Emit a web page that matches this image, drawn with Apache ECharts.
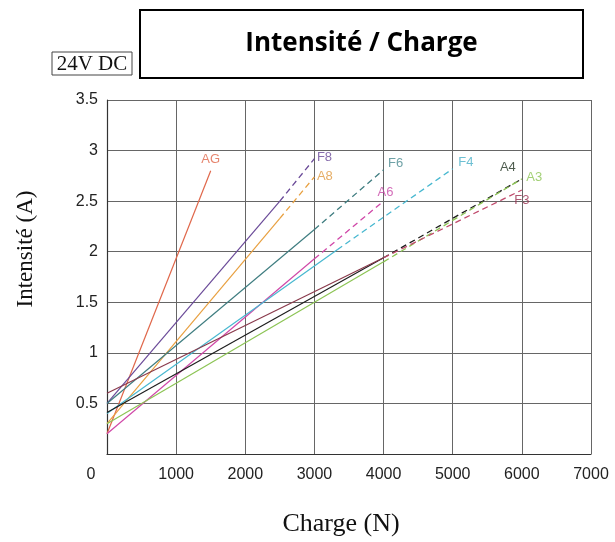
<!DOCTYPE html>
<html>
<head>
<meta charset="utf-8">
<script src="https://cdn.jsdelivr.net/npm/echarts@6/dist/echarts.min.js"></script>
<style>
html,body{margin:0;padding:0;background:#fff;}
#c{width:615px;height:542px;}
</style>
</head>
<body>
<div id="c"></div>
<script>
// ---- data (Charge N, Intensité A) ----
const xTicks = [0, 1000, 2000, 3000, 4000, 5000, 6000, 7000];
const yTicks = [0, 0.5, 1, 1.5, 2, 2.5, 3, 3.5];

const agSolid  = [[0, 0.2], [1500, 2.8]];
const f8Solid  = [[0, 0.5], [2500, 2.5]];
const f8Dashed = [[2500, 2.5], [3000, 2.92]];
const a8Solid  = [[0, 0.3], [2500, 2.33]];
const a8Dashed = [[2500, 2.33], [3000, 2.74]];
const f6Solid  = [[0, 0.5], [3000, 2.22]];
const f6Dashed = [[3000, 2.22], [4000, 2.81]];
const a6Solid  = [[0, 0.2], [3000, 1.93]];
const a6Dashed = [[3000, 1.93], [4000, 2.5]];
const f4Solid  = [[0, 0.4], [3330, 2.02]];
const f4Dashed = [[3330, 2.02], [5000, 2.82]];
const a4Solid  = [[0, 0.41], [4000, 1.94]];
const a4Dashed = [[4000, 1.94], [6000, 2.72]];
const a3Solid  = [[0, 0.3], [4000, 1.9]];
const a3Dashed = [[4000, 1.9], [6000, 2.72]];
const f3Solid  = [[0, 0.6], [4000, 1.94]];
const f3Dashed = [[4000, 1.94], [6000, 2.61]];

const lineNames  = ['AG', 'F8', 'A8', 'F6', 'A6', 'F4', 'A4', 'A3', 'F3'];
const solidSets  = [agSolid, f8Solid, a8Solid, f6Solid, a6Solid, f4Solid, a4Solid, a3Solid, f3Solid];
const dashedSets = [null, f8Dashed, a8Dashed, f6Dashed, a6Dashed, f4Dashed, a4Dashed, a3Dashed, f3Dashed];

// ---- styles ----
const lineColors  = ['#e0674a', '#6a4a98', '#e8a040', '#3f7d80', '#d048a8', '#48b8d0', '#1e1e1e', '#8cc454', '#8a3a4c'];
const dashColors  = ['#e0674a', '#6a4a98', '#e8a040', '#3f7d80', '#d048a8', '#48b8d0', '#1e1e1e', '#8cc454', '#c04a6c'];
const labelColors = ['#e0674a', '#6a4a98', '#e09a40', '#4a8a90', '#c848a8', '#48b0c8', '#223322', '#8cc454', '#9a3050'];
const labelPlace = {
  AG: {position: 'top', distance: 4, offset: [0, 0]},
  F8: {position: 'right', distance: 2, offset: [0, -1]},
  A8: {position: 'right', distance: 2, offset: [0, 0]},
  F6: {position: 'right', distance: 4, offset: [0, -6]},
  A6: {position: 'top', distance: 2, offset: [2, 0]},
  F4: {position: 'right', distance: 5, offset: [0, -6]},
  A4: {position: 'top', distance: 4, offset: [-14, 0]},
  A3: {position: 'right', distance: 4, offset: [0, -1]},
  F3: {position: 'bottom', distance: 3, offset: [0, 0]}
};

const series = [];
lineNames.forEach(function (nm, i) {
  series.push({
    type: 'line', name: nm + ' solid', data: solidSets[i],
    symbol: 'none', silent: true,
    lineStyle: {color: lineColors[i], width: 1.2}
  });
  if (dashedSets[i]) {
    series.push({
      type: 'line', name: nm + ' dashed', data: dashedSets[i],
      symbol: 'none', silent: true,
      lineStyle: {color: dashColors[i], width: 1.3, type: [6, 4]}
    });
  }
});
// end labels
const endPoints = lineNames.map(function (nm, i) {
  const arr = dashedSets[i] || solidSets[i];
  const p = arr[arr.length - 1];
  const lp = labelPlace[nm];
  return {
    value: p,
    label: {
      show: true, formatter: nm, color: labelColors[i],
      position: lp.position, distance: lp.distance, offset: lp.offset
    }
  };
});
series.push({
  type: 'scatter', data: endPoints, symbolSize: 1, silent: true,
  itemStyle: {color: 'rgba(0,0,0,0)'},
  label: {fontFamily: 'Liberation Sans, Arial, sans-serif', fontSize: 13}
});

const chart = echarts.init(document.getElementById('c'), null, {renderer: 'canvas'});
chart.setOption({
  animation: false,
  backgroundColor: '#fff',
  grid: {left: 107, right: 24, top: 100, bottom: 80, containLabel: false},
  xAxis: {
    type: 'value', min: xTicks[0], max: xTicks[xTicks.length - 1], interval: 1000,
    axisLine: {show: true, lineStyle: {color: '#333', width: 1.2}},
    axisTick: {show: false},
    splitLine: {show: true, lineStyle: {color: '#666', width: 1}},
    axisLabel: {
      color: '#222', fontSize: 16, fontFamily: 'Liberation Sans, Arial, sans-serif', margin: 13,
      formatter: function (v) { return v === 0 ? '{z|0}' : String(v); },
      rich: {z: {fontSize: 16, fontFamily: 'Liberation Sans, Arial, sans-serif', color: '#222', padding: [0, 32, 0, 0]}}
    },
    name: 'Charge (N)', nameLocation: 'middle', nameGap: 57,
    nameTextStyle: {fontFamily: 'Liberation Serif, Times New Roman, serif', fontSize: 26, color: '#111', padding: [0, 16, 0, 0]}
  },
  yAxis: {
    type: 'value', min: yTicks[0], max: yTicks[yTicks.length - 1], interval: 0.5,
    axisLine: {show: true, lineStyle: {color: '#333', width: 1.2}},
    axisTick: {show: false},
    splitLine: {show: true, lineStyle: {color: '#666', width: 1}},
    axisLabel: {
      color: '#222', fontSize: 16, fontFamily: 'Liberation Sans, Arial, sans-serif', margin: 9,
      formatter: function (v) { return v === 0 ? '' : String(v); }
    },
    name: 'Intensité (A)', nameLocation: 'middle', nameGap: 70, nameRotate: 90,
    nameTextStyle: {fontFamily: 'Liberation Serif, Times New Roman, serif', fontSize: 23, color: '#111', padding: [0, 0, 0, 56]}
  },
  graphic: [
    {type: 'rect', shape: {x: 140, y: 10, width: 443, height: 68},
     style: {fill: '#fff', stroke: '#000', lineWidth: 2}},
    {type: 'text', x: 361.5, y: 44,
     style: {text: 'Intensité / Charge', fill: '#000', font: 'bold 26px "Open Sans", sans-serif',
             textAlign: 'center', textVerticalAlign: 'middle'}},
    {type: 'rect', shape: {x: 52, y: 52, width: 80, height: 23},
     style: {fill: '#fff', stroke: '#444', lineWidth: 1}},
    {type: 'text', x: 92, y: 64,
     style: {text: '24V DC', fill: '#111', font: '21px "Liberation Serif", serif',
             textAlign: 'center', textVerticalAlign: 'middle'}}
  ],
  series: series
});
</script>
</body>
</html>
